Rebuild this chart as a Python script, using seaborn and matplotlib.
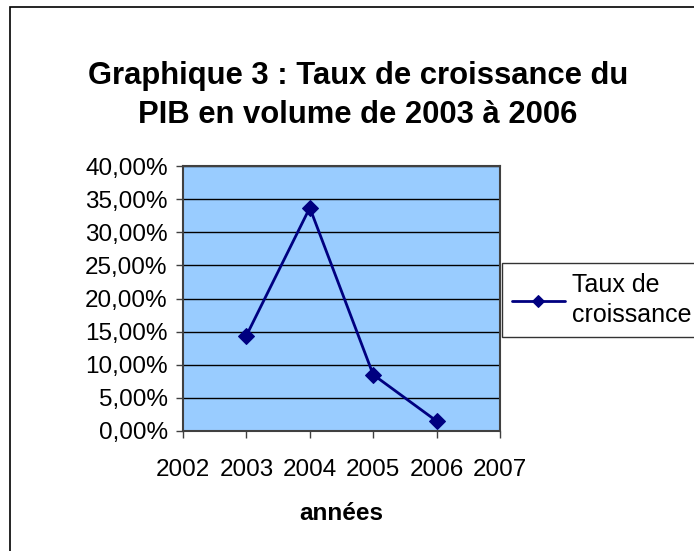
import matplotlib
matplotlib.use("Agg")
import matplotlib.pyplot as plt
import matplotlib.patches as mpatches
from matplotlib.ticker import FuncFormatter
import pandas as pd
import seaborn as sns

years = [2003, 2004, 2005, 2006]
growth_rates = [0.144, 0.337, 0.085, 0.015]
series_label = "Taux de\ncroissance"
title_lines = ["Graphique 3 : Taux de croissance du", "PIB en volume de 2003 à 2006"]
x_label = "années"
x_ticks = [2002, 2003, 2004, 2005, 2006, 2007]
y_ticks = [0.0, 0.05, 0.10, 0.15, 0.20, 0.25, 0.30, 0.35, 0.40]

NAVY = "#000080"
PLOT_BG = "#99CCFF"


def pct_fmt(v, _pos):
    return f"{v * 100:.2f}%".replace(".", ",")


def main() -> None:
    sns.set_style("white")
    plt.rcParams["font.family"] = ["Liberation Sans", "DejaVu Sans"]
    plt.rcParams["text.color"] = "#000000"
    plt.rcParams["axes.labelcolor"] = "#000000"

    df = pd.DataFrame({"year": years, "rate": growth_rates})

    fig = plt.figure(figsize=(6.94, 5.51), dpi=100)
    ax = fig.add_axes((183 / 694, 1 - 431 / 551, 317 / 694, 265 / 551))

    sns.lineplot(
        data=df, x="year", y="rate", ax=ax,
        color=NAVY, linewidth=2, marker="D", markersize=8,
        markeredgecolor=NAVY, markerfacecolor=NAVY, label=series_label,
    )

    ax.set_facecolor(PLOT_BG)
    ax.set_xlim(2002, 2007)
    ax.set_ylim(0, 0.40)
    ax.set_xticks(x_ticks)
    ax.set_yticks(y_ticks)
    ax.yaxis.set_major_formatter(FuncFormatter(pct_fmt))
    ax.grid(axis="y", color="#000000", linewidth=1)
    ax.grid(axis="x", visible=False)
    ax.set_axisbelow(True)
    for side in ax.spines.values():
        side.set_color("#404040")
        side.set_linewidth(1.5)
    ax.tick_params(axis="both", direction="out", length=5, width=1, color="#404040",
                   labelsize=17.5, labelcolor="#000000", bottom=True, left=True)
    ax.tick_params(axis="x", pad=15)
    ax.tick_params(axis="y", pad=6)
    ax.set_xlabel(x_label, fontsize=17.5, fontweight="bold", labelpad=15)
    ax.set_ylabel("")

    leg = ax.legend(
        loc="upper left", bbox_to_anchor=(502 / 694, 1 - 263 / 551),
        bbox_transform=fig.transFigure, fontsize=18, frameon=True, fancybox=False,
        handlelength=2.1, handletextpad=0.3, borderpad=0.4, borderaxespad=0,
        markerscale=0.8,
    )
    leg.get_frame().set_edgecolor("#000000")
    leg.get_frame().set_linewidth(1)
    for t in leg.get_texts():
        t.set_linespacing(1.3)

    fig.text(358 / 694, 1 - 76 / 551, title_lines[0], ha="center", va="center",
             fontsize=22.3, fontweight="bold", color="#000000")
    fig.text(358 / 694, 1 - 115 / 551, title_lines[1], ha="center", va="center",
             fontsize=22.3, fontweight="bold", color="#000000")

    frame = mpatches.Rectangle((10 / 694, -0.1), 1.2, 1.1 - 7 / 551,
                               transform=fig.transFigure, fill=False,
                               edgecolor="#000000", linewidth=1.2)
    fig.add_artist(frame)

    fig.savefig("out.png", dpi=100)
    plt.close(fig)


if __name__ == "__main__":
    main()
